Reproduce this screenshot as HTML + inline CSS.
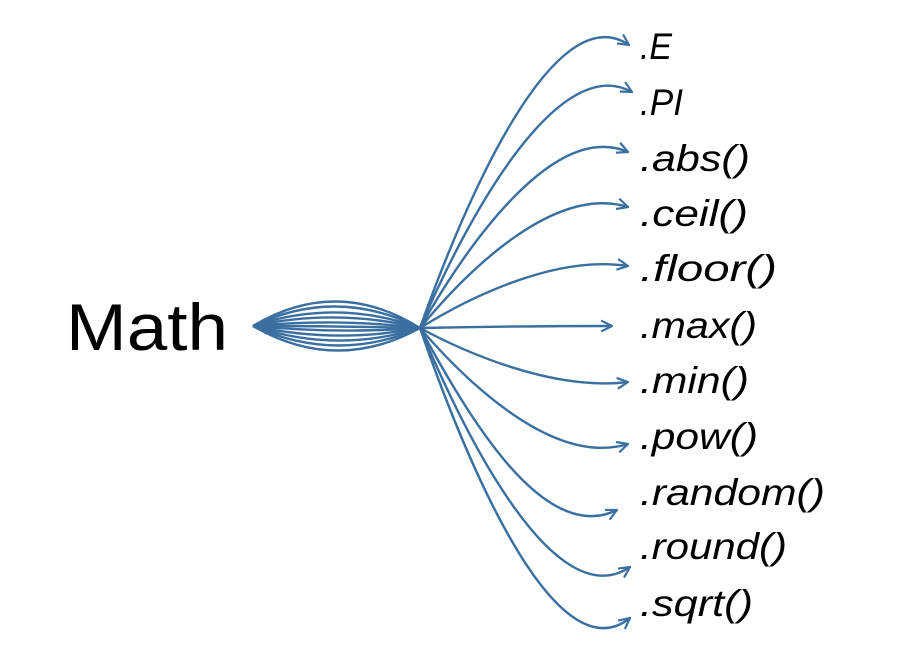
<!DOCTYPE html>
<html><head><meta charset="utf-8"><style>
html,body{margin:0;padding:0;background:#fff;width:902px;height:647px;overflow:hidden}
svg{display:block}
</style></head><body>
<svg id="chart" width="902" height="647" viewBox="0 0 902 647" xmlns="http://www.w3.org/2000/svg">
<defs>
<marker id="arr" viewBox="0 0 12 12" refX="11" refY="6" markerWidth="13" markerHeight="13" markerUnits="userSpaceOnUse" orient="auto">
<path d="M1,1 L11,6 L1,11" fill="none" stroke="#3a6fa0" stroke-width="2"/>
</marker>
</defs>
<text x="66" y="350" font-family="Liberation Sans, sans-serif" font-size="66" textLength="162" lengthAdjust="spacingAndGlyphs" fill="#000">Math</text>
<g id="links"></g>
<g id="labels"></g>
</svg>
<script>
const labels = [".E", ".PI", ".abs()", ".ceil()", ".floor()", ".max()", ".min()", ".pow()", ".random()", ".round()", ".sqrt()"];
const labelY = [46, 102, 158, 213, 268, 325, 380, 436, 492, 546, 603];
const labelWidth = [32, 43, 110, 108, 137, 117, 109, 118, 185, 147, 113];
const tipX = [629, 632, 628, 628, 628, 612, 628, 628, 617, 630, 630];
const tipY = [45, 92, 152, 207, 266, 326, 382, 444, 510, 567, 618];
const overshoot = [22, 18, 14, 10, 5, 0, -4, -10, -16, -22, -26];
const lensBulge = [-25, -20, -14, -9, -4, 0, 4, 9, 14, 19, 24];

const NS = "http://www.w3.org/2000/svg";
const links = document.getElementById('links');
const labG = document.getElementById('labels');
const sx = 253, sy = 326, hx = 420, hy = 328;
const col = "#3a6fa0";
for (let i = 0; i < labels.length; i++) {
  const tx = tipX[i], ty = tipY[i];
  const b = lensBulge[i];
  const c1x = hx + 45, c1y = hy + (ty - hy) * 0.45;
  const c2x = tx - 75, c2y = ty - overshoot[i] * (Math.abs(ty - hy) > 30 ? 2.3 : 0.6);
  const d = `M${sx},${sy} Q${(sx+hx)/2},${sy + 2*b} ${hx},${hy} C${c1x},${c1y} ${c2x},${c2y} ${tx},${ty}`;
  const p = document.createElementNS(NS, 'path');
  p.setAttribute('d', d);
  p.setAttribute('fill', 'none');
  p.setAttribute('stroke', col);
  p.setAttribute('stroke-width', '2.4');
  p.setAttribute('marker-end', 'url(#arr)');
  
  
  links.appendChild(p);
  const t = document.createElementNS(NS, 'text');
  t.setAttribute('x', 640);
  t.setAttribute('y', labelY[i] + 13);
  t.setAttribute('font-family', 'Liberation Sans, sans-serif');
  t.setAttribute('font-style', 'italic');
  t.setAttribute('font-size', '37');
  t.setAttribute('textLength', labelWidth[i]);
  t.setAttribute('lengthAdjust', 'spacingAndGlyphs');
  t.setAttribute('fill', '#000');
  t.textContent = labels[i];
  
  
  labG.appendChild(t);
}
</script>
</body></html>
